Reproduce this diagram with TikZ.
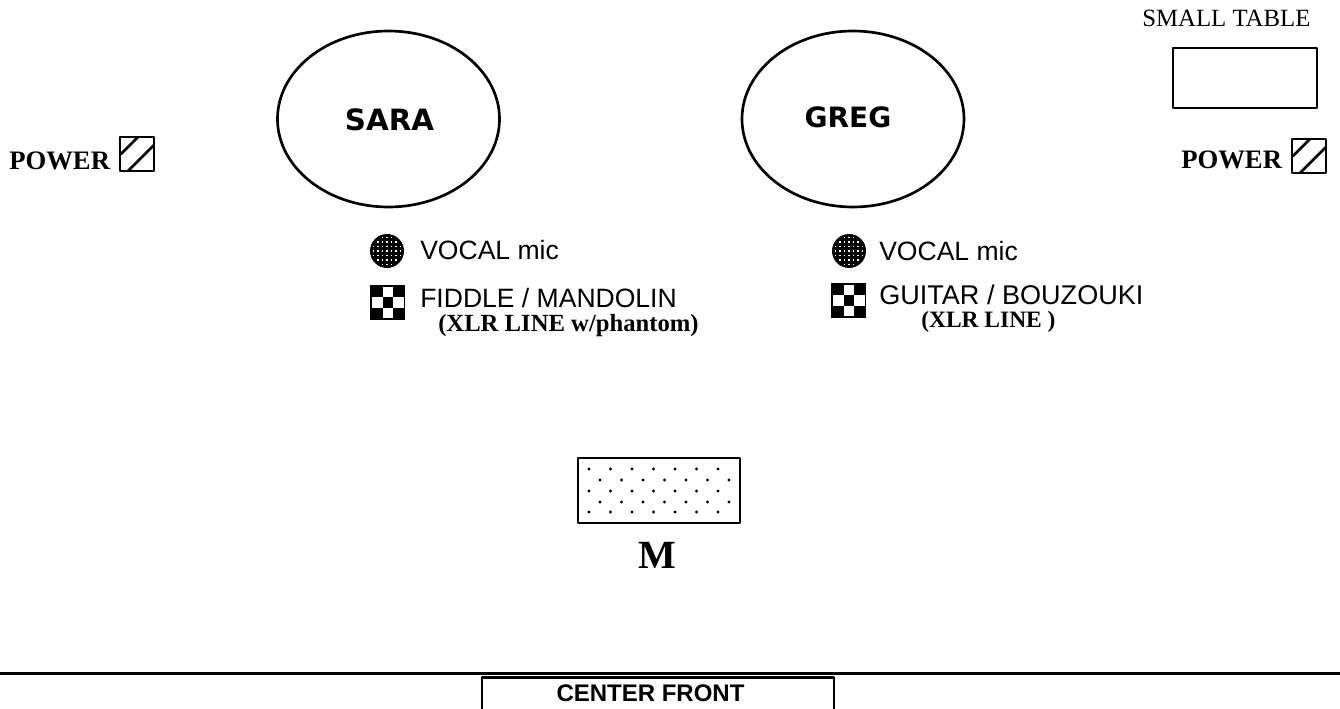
\documentclass[tikz,border=0pt]{standalone}
\usepackage{fontspec}
\setmainfont{Liberation Serif}
\setsansfont{Liberation Sans}
\newfontfamily\namefont{DejaVu Sans}
\usepackage{xcolor}
\definecolor{ink}{HTML}{000000}
\tikzset{
  base/.style={draw=ink, line width=2pt, line join=round},
  hatch/.style={draw=ink, line width=2pt, line cap=round, line join=round},
  player/.style={font=\namefont\bfseries\fontsize{22}{22}\selectfont, text=ink, inner sep=0pt},
  power/.style={font=\bfseries\fontsize{20}{20}\selectfont, text=ink, inner sep=0pt, anchor=base west},
  chan/.style={font=\sffamily\fontsize{19.9}{20}\selectfont, text=ink, inner sep=0pt, anchor=base west},
  line/.style={font=\bfseries\fontsize{18.5}{19}\selectfont, text=ink, inner sep=0pt, anchor=base west},
  tag/.style={font=\fontsize{18.6}{19}\selectfont, text=ink, inner sep=0pt, anchor=base west},
  dot/.style={circle, fill=ink, inner sep=0pt, minimum size=2.6pt}
}
\begin{document}
\begin{tikzpicture}[x=0.75pt,y=-0.75pt]
  \useasboundingbox (0,0) rectangle (1340,709);

  % players
  \draw[base] (388.5,119) ellipse (111 and 88);
  \draw[base] (853,119) ellipse (111 and 88);
  \node[player] (sara) at (389.5,120) {SARA};
  \node[player, font=\namefont\bfseries\fontsize{21}{21}\selectfont] (greg) at (848,117) {GREG};

  % power boxes
  \foreach \x/\y in {120/137,1292/139}{
    \draw[hatch] (\x,\y) rectangle (\x+34,\y+34);
    \draw[hatch] (\x+1,\y+17) -- (\x+18,\y);
    \draw[hatch] (\x+8,\y+34) -- (\x+34,\y+8);
  }
  \node[power] (powerl) at (9,170) {POWER};
  \node[power] (powerr) at (1181,169) {POWER};

  % small table
  \node[tag] (table) at (1142,27) {SMALL TABLE};
  \draw[base] (1173,48) rectangle (1317,108);

  % mics
  \foreach \x/\y in {387/251,849/251}{
    \fill[ink] (\x,\y) circle (17);
    \foreach \i in {-3,...,3}{
      \foreach \j in {-3,...,3}{
        \pgfmathtruncatemacro{\r}{\i*\i+\j*\j}
        \ifnum\r<13
          \fill[white] (\x+\i*4.5-0.9,\y+\j*4.5-0.9) rectangle ++(1.8,1.8);
        \fi
      }
    }
  }
  \node[chan] (vocall) at (420,260) {VOCAL mic};
  \node[chan] (vocalr) at (879,261) {VOCAL mic};

  % line inputs
  \foreach \x/\y in {370/285,831/283}{
    \fill[ink] (\x,\y) rectangle (\x+35,\y+35);
    \foreach \i/\j in {1/0,0/1,2/1,1/2}{
      \fill[white] (\x+2+\i*10.5,\y+2+\j*10.5) rectangle ++(10.5,10.5);
    }
  }
  \node[chan] (fiddle) at (420,308) {FIDDLE / MANDOLIN};
  \node[chan, font=\sffamily\fontsize{20.3}{20}\selectfont] (guitar) at (879,305) {GUITAR / BOUZOUKI};
  \node[line] (xlrl) at (438,332) {(XLR LINE w/phantom)};
  \node[line, font=\bfseries\fontsize{17.6}{18}\selectfont] (xlrr) at (921,328) {(XLR LINE )};

  % monitor
  \draw[base] (578,458) rectangle (740,523);
  \foreach \y in {469,491,512}{
    \foreach \i in {0,...,6}{
      \node[dot] at (589+\i*21.5,\y) {};
    }
  }
  \foreach \y in {480,502}{
    \foreach \i in {0,...,6}{
      \node[dot] at (600+\i*21.5,\y) {};
    }
  }
  \node[font=\bfseries\fontsize{30}{30}\selectfont, inner sep=0pt] (mon) at (657.5,555) {M};

  % stage edge
  \draw[draw=ink, line width=2pt] (0,673.5) -- (1340,673.5);
  \draw[base] (482,709) -- (482,677.5) -- (834,677.5) -- (834,709);
  \node[font=\sffamily\bfseries\fontsize{18}{18}\selectfont, inner sep=0pt] (front) at (650.5,693) {CENTER FRONT};
\end{tikzpicture}
\end{document}
